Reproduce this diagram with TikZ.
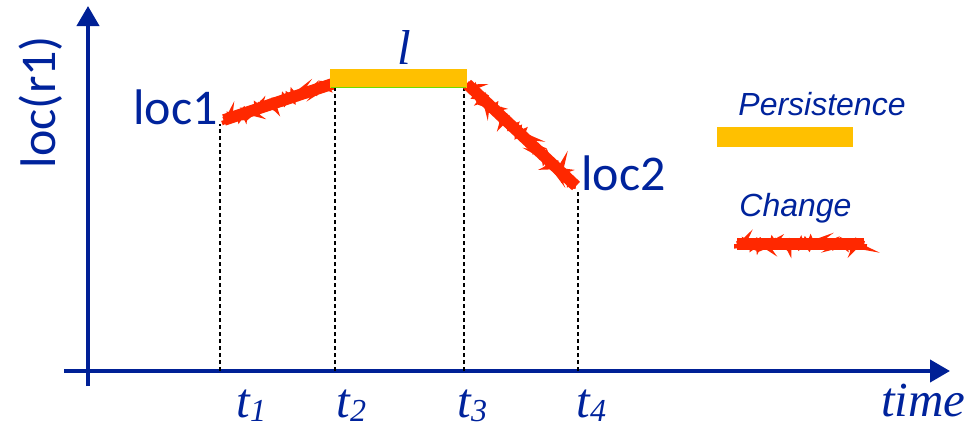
\documentclass[tikz,border=0pt]{standalone}
\usepackage{fontspec}
\setmainfont{Liberation Serif}
\newfontfamily\calib{Carlito}
\newfontfamily\arialf{Liberation Sans}
\usetikzlibrary{decorations.pathmorphing,arrows.meta}
\definecolor{axblue}{RGB}{0,32,150}
\definecolor{txtblue}{RGB}{0,35,156}
\definecolor{persist}{RGB}{255,192,0}
\definecolor{chgred}{RGB}{255,40,0}
\definecolor{barline}{RGB}{110,220,0}
\tikzset{
  axis/.style={draw=axblue, line width=2pt, -{Triangle[length=10pt,width=11pt]}},
  guide/.style={draw=black, line width=0.7pt, dash pattern=on 2pt off 1.5pt},
  chgbase/.style={draw=chgred, line width=5.8pt},
  chgrough/.style={draw=chgred, line width=3pt, decorate,
     decoration={random steps, segment length=1.2pt, amplitude=1.2pt}},
  loclbl/.style={font=\calib\fontsize{25}{30}\selectfont, text=txtblue, inner sep=0pt},
  tlbl/.style={font=\itshape\fontsize{24.5}{29}\selectfont, text=txtblue, inner sep=0pt},
  leglbl/.style={font=\arialf\itshape\fontsize{16}{19}\selectfont, text=txtblue, inner sep=0pt},
}
\newcommand\tsub[1]{t\raisebox{-2.2pt}{\fontsize{16}{18}\selectfont #1}}
\newcommand\roughstroke[2]{%
  \draw[chgbase] (#1) -- (#2);
  \pgfmathsetseed{11}\draw[chgrough] (#1) -- (#2);
  \pgfmathsetseed{23}\draw[chgrough] (#1) -- (#2);
  \pgfmathsetseed{37}\draw[chgrough] (#1) -- (#2);
  \pgfmathsetseed{51}\draw[chgrough] (#1) -- (#2);
}
\begin{document}
\begin{tikzpicture}[x=0.5pt,y=-0.5pt]
\useasboundingbox (0,0) rectangle (978,428);
% axes
\coordinate (yb) at (88,386);
\coordinate (yt) at (88,6);
\coordinate (xl) at (64,371);
\coordinate (xr) at (950,371);
\draw[axis] (yb) -- (yt);
\draw[axis] (xl) -- (xr);
% curve points
\coordinate (p1) at (224,120);
\coordinate (p2) at (332,84);
\coordinate (p3) at (467,84);
\coordinate (p4) at (576,186);
\coordinate (b1) at (220,371);
\coordinate (b2) at (335,371);
\coordinate (b3) at (464,371);
\coordinate (b4) at (578,371);
\coordinate (d1) at (220,124);
\coordinate (d2) at (335,88);
\coordinate (d3) at (464,88);
\coordinate (d4) at (578,189);
\draw[guide] (b1) -- (d1);
\draw[guide] (b2) -- (d2);
\draw[guide] (b3) -- (d3);
\draw[guide] (b4) -- (d4);
% change strokes
\roughstroke{p1}{p2}
\roughstroke{p3}{p4}
% persistence bar
\fill[persist] (330,69) rectangle (467,88);
\coordinate (g1) at (331,87.6);
\coordinate (g2) at (466,87.6);
\draw[barline, line width=0.6pt] (g1) -- (g2);
% labels
\node[loclbl, rotate=90, anchor=base] (ylbl) at (55,102) {loc(r1)};
\node[loclbl, anchor=base east] (loc1) at (218,124) {loc1};
\node[loclbl, anchor=base west] (loc2) at (581,190) {loc2};
\node[tlbl, anchor=base] (ll) at (404,64) {l};
\node[tlbl, anchor=base west] (t1) at (236,417) {\tsub{1}};
\node[tlbl, anchor=base west] (t2) at (336,417) {\tsub{2}};
\node[tlbl, anchor=base west] (t3) at (457,417) {\tsub{3}};
\node[tlbl, anchor=base west] (t4) at (576,417) {\tsub{4}};
\node[tlbl, anchor=base east] (time) at (966,416) {time};
% legend
\node[leglbl, anchor=base west] (perslbl) at (738,115) {Persistence};
\fill[persist] (717,127) rectangle (853,147);
\node[leglbl, anchor=base west] (chglbl) at (739,216) {Change};
\coordinate (c1) at (737,244);
\coordinate (c2) at (864,244);
\roughstroke{c1}{c2}
\end{tikzpicture}
\end{document}
